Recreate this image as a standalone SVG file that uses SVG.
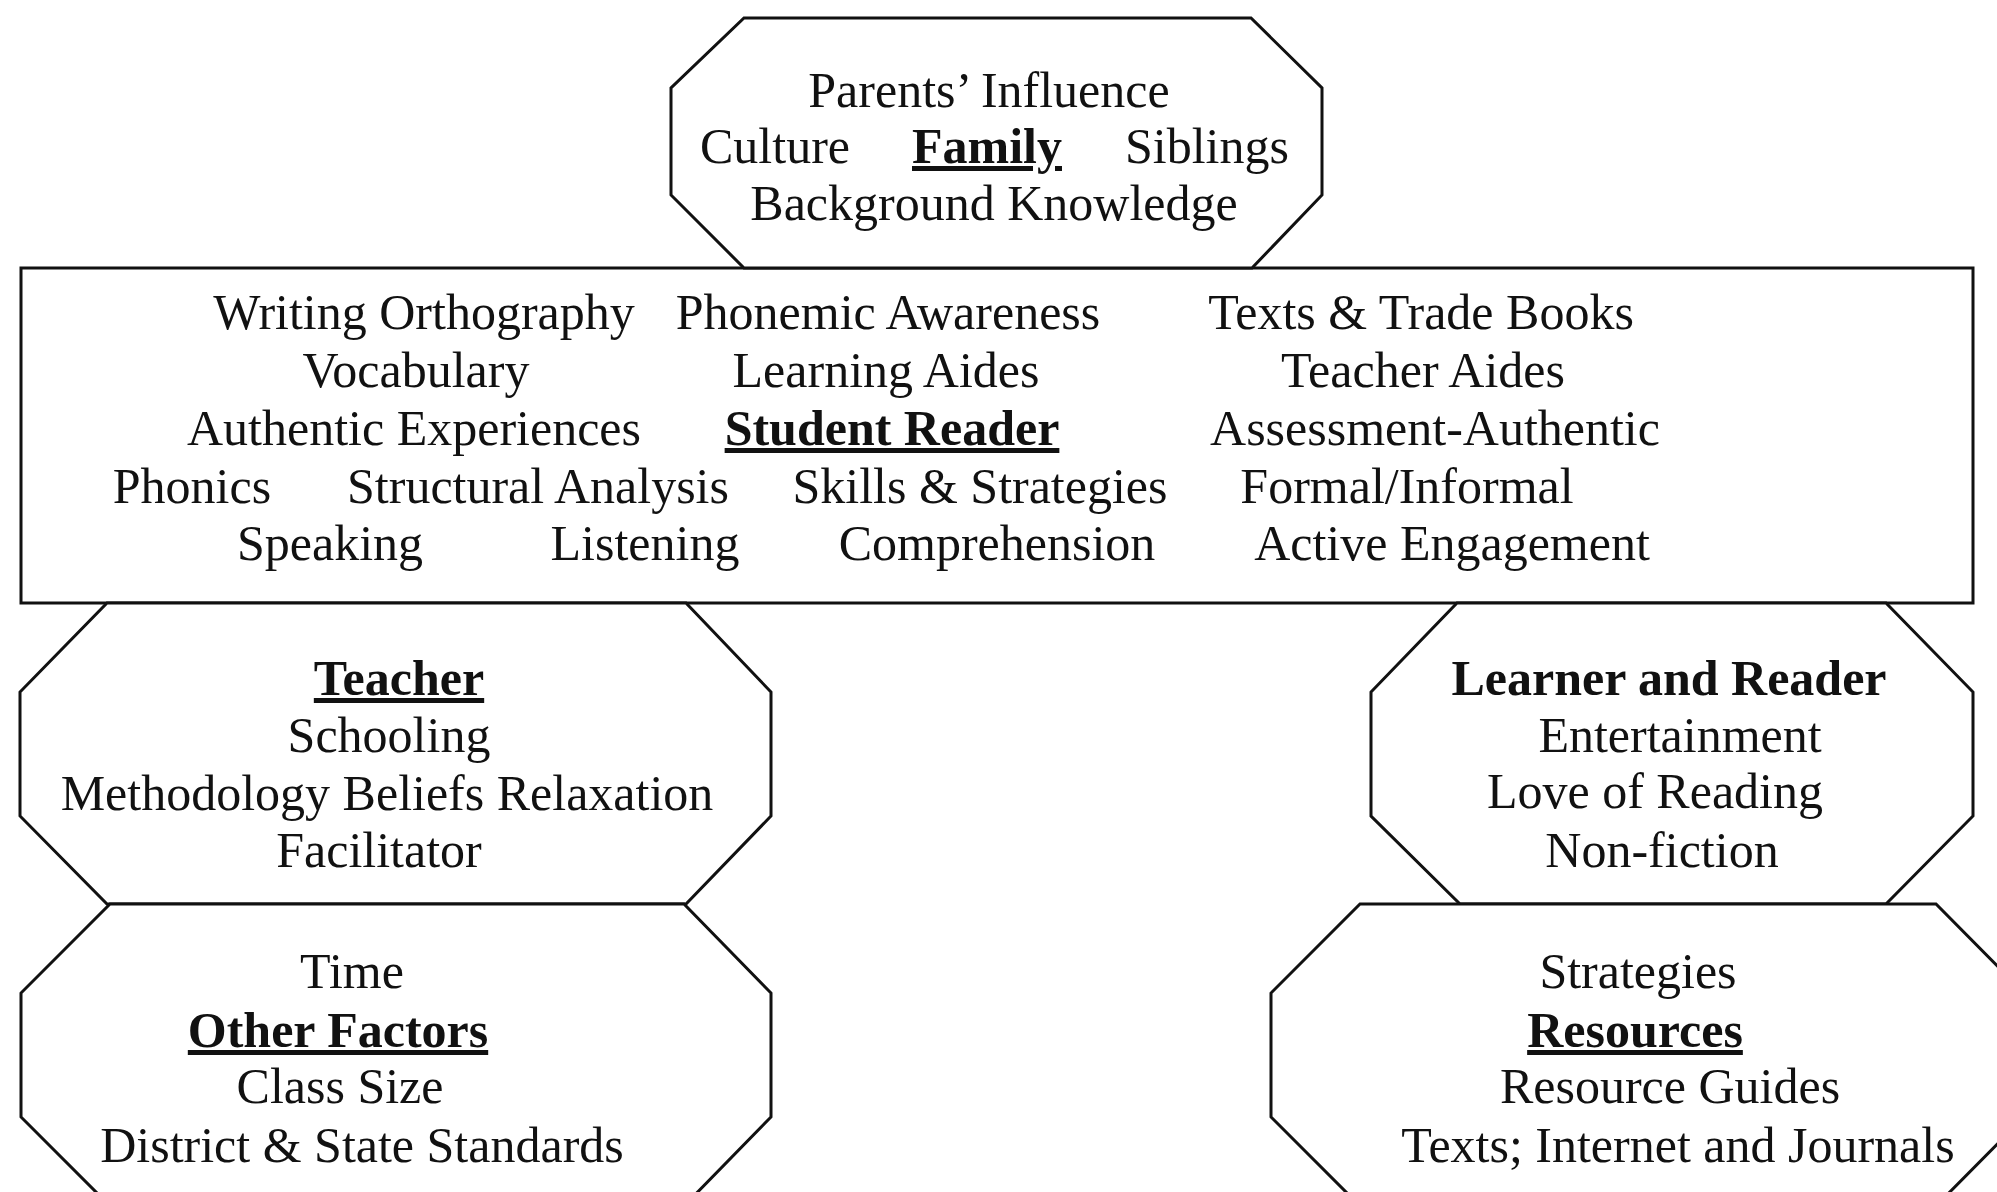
<svg xmlns="http://www.w3.org/2000/svg" width="1997" height="1192" viewBox="0 0 1997 1192">
<style>
.shape{fill:#fff;stroke:#111;stroke-width:3;stroke-linejoin:miter}
text{font-family:"Liberation Serif","Times New Roman",serif;font-size:50px;fill:#111;text-anchor:middle}
.b{font-weight:bold}
.u{text-decoration:underline}
</style>
<rect width="1997" height="1192" fill="#fff"/>
<g id="student-reader">
<rect class="shape" x="21" y="268" width="1952" height="335"/>
<text x="424" y="329">Writing Orthography</text>
<text x="888" y="329">Phonemic Awareness</text>
<text x="1421" y="329">Texts &amp; Trade Books</text>
<text x="416" y="387">Vocabulary</text>
<text x="886" y="387">Learning Aides</text>
<text x="1423" y="387">Teacher Aides</text>
<text x="414" y="445">Authentic Experiences</text>
<text class="b u" x="892" y="445">Student Reader</text>
<text x="1435" y="445">Assessment-Authentic</text>
<text x="192" y="503">Phonics</text>
<text x="538" y="503">Structural Analysis</text>
<text x="980" y="503">Skills &amp; Strategies</text>
<text x="1407" y="503">Formal/Informal</text>
<text x="330" y="560">Speaking</text>
<text x="645" y="560">Listening</text>
<text x="997" y="560">Comprehension</text>
<text x="1452" y="560">Active Engagement</text>
</g>
<g id="family">
<polygon class="shape" points="744,18 1251,18 1322,88 1322,195 1252,268 744,268 671,195 671,88"/>
<text x="989" y="107">Parents’ Influence</text>
<text x="775" y="163">Culture</text>
<text class="b u" x="987" y="163">Family</text>
<text x="1207" y="163">Siblings</text>
<text x="994" y="220">Background Knowledge</text>
</g>
<g id="teacher">
<polygon class="shape" points="107,603 686,603 771,692 771,816 686,904 107,904 20,816 20,692"/>
<text class="b u" x="399" y="695">Teacher</text>
<text x="389" y="752">Schooling</text>
<text x="387" y="810">Methodology Beliefs Relaxation</text>
<text x="379" y="867">Facilitator</text>
</g>
<g id="learner-reader">
<polygon class="shape" points="1457,603 1886,603 1973,692 1973,816 1886,904 1460,904 1371,816 1371,692"/>
<text class="b" x="1669" y="695">Learner and Reader</text>
<text x="1680" y="752">Entertainment</text>
<text x="1655" y="808">Love of Reading</text>
<text x="1662" y="867">Non-fiction</text>
</g>
<g id="other-factors">
<polygon class="shape" points="110,904 684,904 771,993 771,1117 684,1206 110,1206 21,1117 21,993"/>
<text x="352" y="988">Time</text>
<text class="b u" x="338" y="1047">Other Factors</text>
<text x="340" y="1103">Class Size</text>
<text x="362" y="1162">District &amp; State Standards</text>
</g>
<g id="resources">
<polygon class="shape" points="1360,904 1936,904 2024,993 2024,1117 1936,1206 1360,1206 1271,1117 1271,993"/>
<text x="1638" y="988">Strategies</text>
<text class="b u" x="1635" y="1047">Resources</text>
<text x="1670" y="1103">Resource Guides</text>
<text x="1678" y="1162">Texts; Internet and Journals</text>
</g>
<g id="connectors"></g>
</svg>
